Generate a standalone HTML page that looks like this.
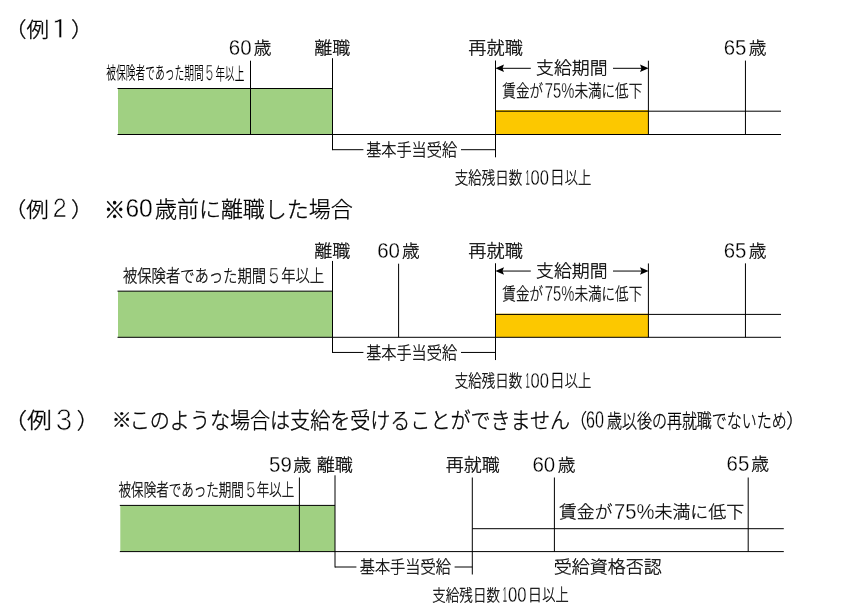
<!DOCTYPE html>
<html lang="ja">
<head>
<meta charset="utf-8">
<title>高年齢再就職給付金 支給例</title>
<style>
html,body{margin:0;padding:0;background:#fff;}
body{width:851px;height:614px;overflow:hidden;}
svg{display:block;will-change:transform;}
svg text{font-family:"Liberation Sans", "Noto Sans CJK JP", sans-serif;font-weight:300;fill:#000;}
svg .n{stroke:#000;stroke-width:0.016em;}
svg .c1{stroke:#000;stroke-width:0.016em;}
svg .c2{font-weight:350;}
svg .d{stroke:#fff;stroke-width:0.012em;}
svg .fw{font-family:"Liberation Sans", "IPAGothic", sans-serif;stroke:#fff;stroke-width:0.02em;}
svg line{stroke:#000;stroke-width:1;}
svg path{fill:#000;}
</style>
</head>
<body>
<svg width="851" height="614" viewBox="0 0 851 614">
<rect x="0" y="0" width="851" height="614" fill="#fff"/>
<g id="ex1">
<g class="shapes">
<rect x="118" y="88.5" width="214.5" height="46" fill="#a0d082"/>
<rect x="495.5" y="110" width="153" height="24.5" fill="#fcc800"/>
</g><g class="lines">
<line x1="117.5" y1="88.5" x2="332.5" y2="88.5"/>
<line x1="495.5" y1="111.2" x2="781" y2="111.2"/>
<line x1="117.5" y1="134.5" x2="781" y2="134.5"/>
<line x1="250.5" y1="60.7" x2="250.5" y2="134.5"/>
<line x1="332.5" y1="58.2" x2="332.5" y2="150.2"/>
<line x1="495.5" y1="60.5" x2="495.5" y2="157.3"/>
<line x1="648.4" y1="60.7" x2="648.4" y2="134.5"/>
<line x1="745.45" y1="60.6" x2="745.45" y2="134.5"/>
<line x1="332.5" y1="149.7" x2="363.4" y2="149.7"/>
<line x1="461" y1="149.7" x2="495.5" y2="149.7"/>
<line x1="501" y1="68.3" x2="530.8" y2="68.3"/>
<line x1="613" y1="68.3" x2="643" y2="68.3"/>
</g>
<path d="M495.4 68.3L504 64.5L502.5 68.3L504 72.1Z"/>
<path d="M648.6 68.3L640 64.5L641.5 68.3L640 72.1Z"/>
<g class="labels">
<text><tspan class="n" x="4" y="36.6" font-size="20.93" textLength="45.08" lengthAdjust="spacingAndGlyphs">（例</tspan><tspan class="fw" x="44.35" y="39.21" font-size="26.76" textLength="31" lengthAdjust="spacingAndGlyphs">１</tspan><tspan class="n" x="70.99" y="36.6" font-size="20.93" textLength="22.8" lengthAdjust="spacingAndGlyphs">）</tspan></text>
<text><tspan class="c2" x="106.31" y="79.36" font-size="17.1" textLength="97.47" lengthAdjust="spacingAndGlyphs">被保険者であった期間</tspan><tspan class="fw" x="203.17" y="81.37" font-size="21.71" textLength="12.34" lengthAdjust="spacingAndGlyphs">５</tspan><tspan class="c2" x="215.42" y="79.53" font-size="17.1" textLength="28.86" lengthAdjust="spacingAndGlyphs">年以上</tspan></text>
<text><tspan class="d" x="228.87" y="55" font-size="22.61" textLength="22.8" lengthAdjust="spacingAndGlyphs">60</tspan><tspan class="n" x="253.67" y="54.07" font-size="16.99" textLength="17.66" lengthAdjust="spacingAndGlyphs">歳</tspan></text>
<text><tspan class="n" x="314.28" y="54.11" font-size="16.6" textLength="36.06" lengthAdjust="spacingAndGlyphs">離職</tspan></text>
<text><tspan class="n" x="468.37" y="54.2" font-size="16.7" textLength="54.57" lengthAdjust="spacingAndGlyphs">再就職</tspan></text>
<text><tspan class="d" x="723.68" y="55" font-size="22.61" textLength="22.69" lengthAdjust="spacingAndGlyphs">65</tspan><tspan class="n" x="748.67" y="54.07" font-size="16.99" textLength="17.66" lengthAdjust="spacingAndGlyphs">歳</tspan></text>
<text><tspan class="n" x="536.09" y="74.32" font-size="16.49" textLength="71.44" lengthAdjust="spacingAndGlyphs">支給期間</tspan></text>
<text><tspan class="c1" x="502.33" y="97.4" font-size="16.7" textLength="40.64" lengthAdjust="spacingAndGlyphs">賃金が</tspan><tspan class="d" x="544.82" y="98.4" font-size="22.17" textLength="29.5" lengthAdjust="spacingAndGlyphs">75%</tspan><tspan class="c1" x="574.49" y="97.4" font-size="16.7" textLength="67.68" lengthAdjust="spacingAndGlyphs">未満に低下</tspan></text>
<text><tspan class="c1" x="366.15" y="156.1" font-size="16.7" textLength="90.91" lengthAdjust="spacingAndGlyphs">基本手当受給</tspan></text>
<text><tspan class="c1" x="454.86" y="183.8" font-size="16.63" textLength="67.34" lengthAdjust="spacingAndGlyphs">支給残日数</tspan><tspan class="d" x="525.54" y="184.82" font-size="22.39" textLength="4.24" lengthAdjust="spacingAndGlyphs">1</tspan><tspan class="d" x="530.62" y="184.6" font-size="21.74" textLength="18.43" lengthAdjust="spacingAndGlyphs">00</tspan><tspan class="c1" x="549.91" y="183.76" font-size="17.76" textLength="14.69" lengthAdjust="spacingAndGlyphs">日</tspan><tspan class="c1" x="564.85" y="183.75" font-size="17.17" textLength="26.46" lengthAdjust="spacingAndGlyphs">以上</tspan></text>
</g>
</g>
<g id="ex2">
<g class="shapes">
<rect x="118" y="291.15" width="214.5" height="46.15" fill="#a0d082"/>
<rect x="495.5" y="313.7" width="153" height="23.6" fill="#fcc800"/>
</g><g class="lines">
<line x1="117.5" y1="291.15" x2="332.5" y2="291.15"/>
<line x1="495.5" y1="314.4" x2="781" y2="314.4"/>
<line x1="117.5" y1="337.3" x2="781" y2="337.3"/>
<line x1="398.6" y1="263.7" x2="398.6" y2="337.3"/>
<line x1="332.5" y1="260.95" x2="332.5" y2="352.95"/>
<line x1="495.5" y1="263.25" x2="495.5" y2="360.05"/>
<line x1="648.4" y1="263.45" x2="648.4" y2="337.3"/>
<line x1="745.45" y1="263.35" x2="745.45" y2="337.3"/>
<line x1="332.5" y1="352.45" x2="363.4" y2="352.45"/>
<line x1="461" y1="352.45" x2="495.5" y2="352.45"/>
<line x1="501" y1="271.05" x2="530.8" y2="271.05"/>
<line x1="613" y1="271.05" x2="643" y2="271.05"/>
</g>
<path d="M495.4 271.05L504 267.25L502.5 271.05L504 274.85Z"/>
<path d="M648.6 271.05L640 267.25L641.5 271.05L640 274.85Z"/>
<g class="labels">
<text><tspan class="n" x="3.8" y="217" font-size="20.93" textLength="45.08" lengthAdjust="spacingAndGlyphs">（例</tspan><tspan class="fw" x="48.5" y="218.33" font-size="25.57" textLength="22.4" lengthAdjust="spacingAndGlyphs">２</tspan><tspan class="n" x="71.09" y="217" font-size="20.93" textLength="22.8" lengthAdjust="spacingAndGlyphs">）</tspan><tspan class="n" x="104.04" y="217.53" font-size="22.57" textLength="21.22" lengthAdjust="spacingAndGlyphs">※</tspan><tspan class="d" x="125.43" y="217.3" font-size="26.52" textLength="27.31" lengthAdjust="spacingAndGlyphs">60</tspan><tspan class="n" x="155.04" y="217.19" font-size="21.17" textLength="197.6" lengthAdjust="spacingAndGlyphs">歳前に離職した場合</tspan></text>
<text><tspan class="c1" x="122.91" y="282.23" font-size="17.45" textLength="143.23" lengthAdjust="spacingAndGlyphs">被保険者であった期間</tspan><tspan class="fw" x="265.46" y="283.76" font-size="21.43" textLength="16.81" lengthAdjust="spacingAndGlyphs">５</tspan><tspan class="c1" x="281.13" y="282.23" font-size="17.45" textLength="42.99" lengthAdjust="spacingAndGlyphs">年以上</tspan></text>
<text><tspan class="n" x="314.28" y="256.86" font-size="16.6" textLength="36.06" lengthAdjust="spacingAndGlyphs">離職</tspan></text>
<text><tspan class="d" x="377.17" y="257.75" font-size="22.61" textLength="22.8" lengthAdjust="spacingAndGlyphs">60</tspan><tspan class="n" x="401.97" y="256.82" font-size="16.99" textLength="17.66" lengthAdjust="spacingAndGlyphs">歳</tspan></text>
<text><tspan class="n" x="468.37" y="256.95" font-size="16.7" textLength="54.57" lengthAdjust="spacingAndGlyphs">再就職</tspan></text>
<text><tspan class="d" x="723.68" y="257.75" font-size="22.61" textLength="22.69" lengthAdjust="spacingAndGlyphs">65</tspan><tspan class="n" x="748.67" y="256.82" font-size="16.99" textLength="17.66" lengthAdjust="spacingAndGlyphs">歳</tspan></text>
<text><tspan class="n" x="536.09" y="277.07" font-size="16.49" textLength="71.44" lengthAdjust="spacingAndGlyphs">支給期間</tspan></text>
<text><tspan class="c1" x="502.33" y="300.15" font-size="16.7" textLength="40.64" lengthAdjust="spacingAndGlyphs">賃金が</tspan><tspan class="d" x="544.82" y="301.15" font-size="22.17" textLength="29.5" lengthAdjust="spacingAndGlyphs">75%</tspan><tspan class="c1" x="574.49" y="300.15" font-size="16.7" textLength="67.68" lengthAdjust="spacingAndGlyphs">未満に低下</tspan></text>
<text><tspan class="c1" x="366.15" y="358.85" font-size="16.7" textLength="90.91" lengthAdjust="spacingAndGlyphs">基本手当受給</tspan></text>
<text><tspan class="c1" x="454.86" y="386.8" font-size="16.63" textLength="67.34" lengthAdjust="spacingAndGlyphs">支給残日数</tspan><tspan class="d" x="525.54" y="387.82" font-size="22.39" textLength="4.24" lengthAdjust="spacingAndGlyphs">1</tspan><tspan class="d" x="530.62" y="387.6" font-size="21.74" textLength="18.43" lengthAdjust="spacingAndGlyphs">00</tspan><tspan class="c1" x="549.91" y="386.76" font-size="17.76" textLength="14.69" lengthAdjust="spacingAndGlyphs">日</tspan><tspan class="c1" x="564.85" y="386.75" font-size="17.17" textLength="26.46" lengthAdjust="spacingAndGlyphs">以上</tspan></text>
</g>
</g>
<g id="ex3">
<g class="shapes">
<rect x="120.3" y="505.4" width="214.7" height="46.2" fill="#a0d082"/>
</g><g class="lines">
<line x1="119.8" y1="505.4" x2="335" y2="505.4"/>
<line x1="472.3" y1="528.7" x2="783.8" y2="528.7"/>
<line x1="119.8" y1="551.6" x2="783.8" y2="551.6"/>
<line x1="299.4" y1="477.5" x2="299.4" y2="551.6"/>
<line x1="335" y1="475.3" x2="335" y2="567.5"/>
<line x1="472.3" y1="477.5" x2="472.3" y2="574.5"/>
<line x1="554.4" y1="477.5" x2="554.4" y2="551.6"/>
<line x1="748.2" y1="477.5" x2="748.2" y2="551.6"/>
<line x1="335" y1="567" x2="356.4" y2="567"/>
<line x1="454.6" y1="567" x2="472.3" y2="567"/>
</g>
<g class="labels">
<text><tspan class="n" x="2.17" y="428.4" font-size="21.86" textLength="49.67" lengthAdjust="spacingAndGlyphs">（例</tspan><tspan class="fw" x="51.06" y="430.62" font-size="28.06" textLength="26.4" lengthAdjust="spacingAndGlyphs">３</tspan><tspan class="n" x="76.79" y="428.4" font-size="21.86" textLength="22.8" lengthAdjust="spacingAndGlyphs">）</tspan><tspan class="n" x="111.8" y="426.99" font-size="18.92" textLength="20" lengthAdjust="spacingAndGlyphs">※</tspan><tspan class="n" x="129.79" y="428.19" font-size="21.28" textLength="440.31" lengthAdjust="spacingAndGlyphs">このような場合は支給を受けることができません</tspan><tspan class="n" x="568.64" y="427.83" font-size="19.69" textLength="18.4" lengthAdjust="spacingAndGlyphs">（</tspan><tspan class="d" x="586.03" y="427.6" font-size="23.19" textLength="17.95" lengthAdjust="spacingAndGlyphs">60</tspan><tspan class="c1" x="606.95" y="428.04" font-size="19.57" textLength="179.85" lengthAdjust="spacingAndGlyphs">歳以後の再就職でないため</tspan><tspan class="n" x="786.35" y="427.83" font-size="19.69" textLength="18.8" lengthAdjust="spacingAndGlyphs">）</tspan></text>
<text><tspan class="c1" x="118.55" y="496.17" font-size="17.02" textLength="125.35" lengthAdjust="spacingAndGlyphs">被保険者であった期間</tspan><tspan class="fw" x="243.22" y="497.86" font-size="21.43" textLength="15.11" lengthAdjust="spacingAndGlyphs">５</tspan><tspan class="c1" x="256.8" y="496.17" font-size="17.02" textLength="37.42" lengthAdjust="spacingAndGlyphs">年以上</tspan></text>
<text><tspan class="d" x="269.08" y="471.6" font-size="22.61" textLength="22.8" lengthAdjust="spacingAndGlyphs">59</tspan><tspan class="n" x="293.36" y="470.68" font-size="16.88" textLength="18.09" lengthAdjust="spacingAndGlyphs">歳</tspan></text>
<text><tspan class="n" x="316.68" y="470.7" font-size="16.7" textLength="36.17" lengthAdjust="spacingAndGlyphs">離職</tspan></text>
<text><tspan class="n" x="445.78" y="470.7" font-size="16.7" textLength="54.06" lengthAdjust="spacingAndGlyphs">再就職</tspan></text>
<text><tspan class="d" x="532.47" y="471.6" font-size="22.61" textLength="22.8" lengthAdjust="spacingAndGlyphs">60</tspan><tspan class="n" x="557.67" y="470.68" font-size="16.88" textLength="17.66" lengthAdjust="spacingAndGlyphs">歳</tspan></text>
<text><tspan class="d" x="726.58" y="471.4" font-size="22.75" textLength="22.69" lengthAdjust="spacingAndGlyphs">65</tspan><tspan class="n" x="751.37" y="470.28" font-size="16.88" textLength="17.77" lengthAdjust="spacingAndGlyphs">歳</tspan></text>
<text><tspan class="n" x="559.04" y="518.36" font-size="17.13" textLength="53.41" lengthAdjust="spacingAndGlyphs">賃金が</tspan><tspan class="d" x="613.99" y="519.1" font-size="22.46" textLength="40.45" lengthAdjust="spacingAndGlyphs">75%</tspan><tspan class="n" x="654.46" y="518.36" font-size="17.13" textLength="89.74" lengthAdjust="spacingAndGlyphs">未満に低下</tspan></text>
<text><tspan class="c1" x="359.74" y="573.39" font-size="16.81" textLength="91.11" lengthAdjust="spacingAndGlyphs">基本手当受給</tspan></text>
<text><tspan class="c1" x="432.26" y="601.13" font-size="16.32" textLength="67.75" lengthAdjust="spacingAndGlyphs">支給残日数</tspan><tspan class="d" x="502.84" y="602.22" font-size="22.24" textLength="4.24" lengthAdjust="spacingAndGlyphs">1</tspan><tspan class="d" x="507.92" y="602" font-size="21.59" textLength="18.54" lengthAdjust="spacingAndGlyphs">00</tspan><tspan class="c1" x="527.64" y="601.08" font-size="17.41" textLength="14.23" lengthAdjust="spacingAndGlyphs">日</tspan><tspan class="c1" x="542.2" y="601.08" font-size="16.85" textLength="26.46" lengthAdjust="spacingAndGlyphs">以上</tspan></text>
<text><tspan class="n" x="553.8" y="573.39" font-size="16.81" textLength="108.06" lengthAdjust="spacingAndGlyphs">受給資格否認</tspan></text>
</g>
</g>
</svg>
</body>
</html>
